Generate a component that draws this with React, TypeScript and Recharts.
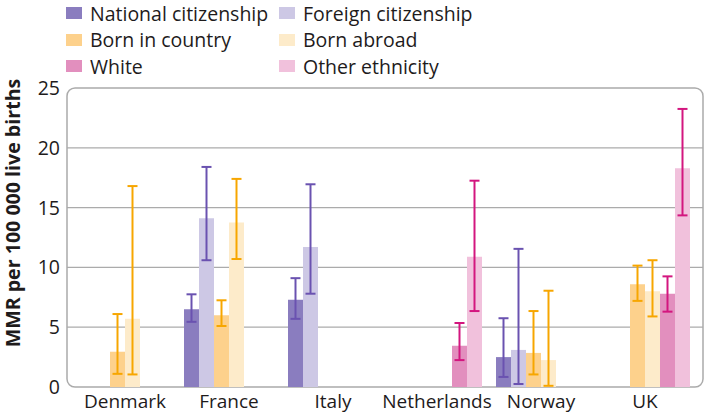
import React from 'react';
import { BarChart, Bar, XAxis, YAxis, CartesianGrid, ErrorBar, ReferenceArea } from 'recharts';

const categories = ['Denmark', 'France', 'Italy', 'Netherlands', 'Norway', 'UK'];

const nationalCit = [null, 6.5, 7.3, null, 2.5, null];
const nationalLo = [null, 5.45, 5.7, null, 0.84, null];
const nationalHi = [null, 7.75, 9.1, null, 5.75, null];

const foreignCit = [null, 14.1, 11.7, null, 3.1, null];
const foreignLo = [null, 10.6, 7.8, null, 0.25, null];
const foreignHi = [null, 18.4, 16.95, null, 11.55, null];

const bornIn = [2.95, 6.0, null, null, 2.85, 8.6];
const bornInLo = [1.1, 5.1, null, null, 1.05, 7.2];
const bornInHi = [6.1, 7.25, null, null, 6.35, 10.15];

const bornAbroad = [5.7, 13.75, null, null, 2.25, 8.0];
const bornAbroadLo = [1.05, 10.7, null, null, 0.1, 5.9];
const bornAbroadHi = [16.8, 17.4, null, null, 8.05, 10.6];

const white = [null, null, null, 3.45, null, 7.8];
const whiteLo = [null, null, null, 2.25, null, 6.3];
const whiteHi = [null, null, null, 5.35, null, 9.25];

const otherEth = [null, null, null, 10.9, null, 18.3];
const otherEthLo = [null, null, null, 6.35, null, 14.35];
const otherEthHi = [null, null, null, 17.25, null, 23.25];

const yTicks = [0, 5, 10, 15, 20, 25];

const FONT = '"Open Sans", sans-serif';
const TEXT = '#1e1b1c';
const GRID = '#ababab';
const PAD = 6;

// ci as [below, above] offsets from the point estimate
const err = (v: number | null, lo: number | null, hi: number | null) =>
  v == null || lo == null || hi == null ? null : [v - lo, hi - v];

const data = categories.map((name, i) => ({
  name,
  nat: nationalCit[i],
  natErr: err(nationalCit[i], nationalLo[i], nationalHi[i]),
  foreign: foreignCit[i],
  foreignErr: err(foreignCit[i], foreignLo[i], foreignHi[i]),
  bornIn: bornIn[i],
  bornInErr: err(bornIn[i], bornInLo[i], bornInHi[i]),
  bornAbroad: bornAbroad[i],
  bornAbroadErr: err(bornAbroad[i], bornAbroadLo[i], bornAbroadHi[i]),
  white: white[i],
  whiteErr: err(white[i], whiteLo[i], whiteHi[i]),
  other: otherEth[i],
  otherErr: err(otherEth[i], otherEthLo[i], otherEthHi[i]),
}));

const series = [
  { key: 'nat', name: 'National citizenship', fill: '#8a7dbf', bar: '#6a52b0' },
  { key: 'foreign', name: 'Foreign citizenship', fill: '#cdc8e5', bar: '#6a52b0' },
  { key: 'bornIn', name: 'Born in country', fill: '#fdd18c', bar: '#f7a600' },
  { key: 'bornAbroad', name: 'Born abroad', fill: '#fdebca', bar: '#f7a600' },
  { key: 'white', name: 'White', fill: '#e28fbe', bar: '#d3167f' },
  { key: 'other', name: 'Other ethnicity', fill: '#f1c1dc', bar: '#d3167f' },
];

const LegendBox = () => (
  <div style={{ position: 'absolute', left: 0, top: 0, width: 704, height: 80, fontFamily: FONT, fontSize: 19.5, color: TEXT }}>
    {series.map((s, i) => {
      const col = i % 2;
      const row = Math.floor(i / 2);
      return (
        <div
          key={s.key}
          style={{
            position: 'absolute',
            left: col === 0 ? 66 : 279,
            top: row * 26.5,
            height: 26,
            display: 'flex',
            alignItems: 'center',
            whiteSpace: 'nowrap',
          }}
        >
          <span style={{ display: 'inline-block', width: 16, height: 12, background: s.fill, marginRight: 8 }} />
          <span>{s.name}</span>
        </div>
      );
    })}
  </div>
);

const Frame = (props: any) => {
  const { x, y, width, height } = props;
  return (
    <rect
      x={x - PAD}
      y={y}
      width={width + PAD * 2}
      height={height}
      rx={8}
      ry={8}
      fill="none"
      stroke={GRID}
      strokeWidth={1.5}
    />
  );
};

const YTitle = () => (
  <text
    x={12}
    y={213}
    transform="rotate(-90 12 213)"
    textAnchor="middle"
    dominantBaseline="central"
    fontFamily={FONT}
    fontSize={19.6}
    fontWeight={700}
    fill={TEXT}
  >
    MMR per 100 000 live births
  </text>
);

export default function App() {
  return (
    <div style={{ position: 'absolute', left: 0, top: 0, width: 704, height: 414, background: '#fff' }}>
      <BarChart
        width={704}
        height={414}
        data={data}
        margin={{ top: 88, right: 1, bottom: 0, left: 0 }}
        barCategoryGap={7}
        barGap={0}
      >
        <CartesianGrid horizontal vertical={false} horizontalValues={[5, 10, 15, 20]} stroke={GRID} strokeWidth={1.2} />
        <ReferenceArea y1={0} y2={25} shape={Frame} ifOverflow="visible" />
        <XAxis
          dataKey="name"
          height={27}
          padding={{ left: PAD, right: PAD }}
          axisLine={false}
          tickLine={false}
          tickMargin={2}
          interval={0}
          tick={{ fontFamily: FONT, fontSize: 19, fill: TEXT }}
        />
        <YAxis
          width={67}
          domain={[0, 25]}
          ticks={yTicks}
          axisLine={false}
          tickLine={false}
          tickSize={6}
          tickMargin={1}
          tick={{ fontFamily: FONT, fontSize: 19.5, fill: TEXT }}
          label={<YTitle />}
        />
        {series.map((s) => (
          <Bar key={s.key} dataKey={s.key} name={s.name} fill={s.fill} isAnimationActive={false}>
            <ErrorBar dataKey={s.key + 'Err'} width={5} strokeWidth={2} stroke={s.bar} direction="y" />
          </Bar>
        ))}
      </BarChart>
      <LegendBox />
    </div>
  );
}
